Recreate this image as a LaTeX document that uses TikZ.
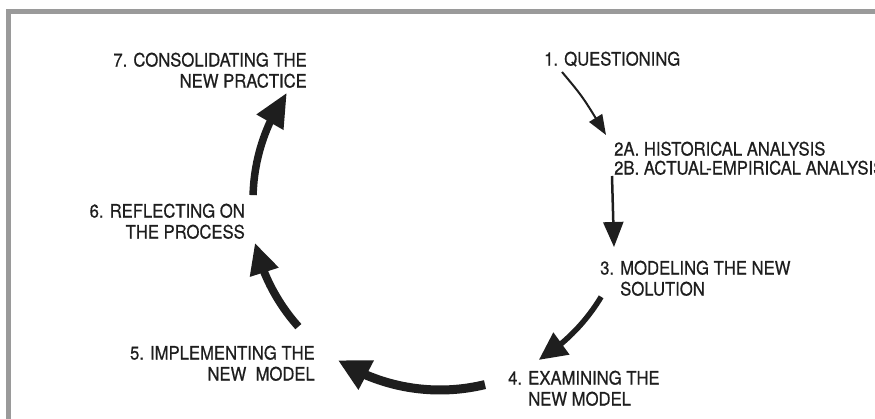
\documentclass[tikz,border=0pt]{standalone}
\usepackage{fontspec}
\setmainfont[FakeStretch=0.9,FakeBold=0.6]{TeX Gyre Heros}
\usetikzlibrary{arrows.meta,bending}
\definecolor{ink}{HTML}{1E1E1E}
\definecolor{framegray}{HTML}{9A9A9A}
\begin{document}
\begin{tikzpicture}[x=1pt,y=-1pt,
  steplabel/.style={inner sep=0pt, text=ink, font=\fontsize{18.5}{21}\selectfont},
  thinarrow/.style={draw=ink, line width=2pt, -{Triangle[length=20pt,width=15pt]}},
  cyclearrow/.style n args={3}{draw=ink, line width=#1, -{Triangle[length=#2,width=#3]}}
]
\useasboundingbox (0,0) rectangle (875,419);
\clip (0,0) rectangle (875,419);
\fill[white] (0,0) rectangle (875,419);

% open frame along the left and top edges
\draw[framegray, line width=5pt] (8.5,440) -- (8.5,11.5) -- (900,11.5);

% step labels
\node[steplabel, anchor=north east, align=right] (n7) at (307,52.5) {7. CONSOLIDATING THE\\NEW PRACTICE};
\node[steplabel, anchor=north west] (n1) at (544,51.5) {1. QUESTIONING};
\node[steplabel, anchor=north west, align=left, font=\fontsize{18.5}{19}\selectfont] (n2) at (614,141.5)
  {2A. HISTORICAL ANALYSIS\\2B. ACTUAL-EMPIRICAL ANALYSIS};
\node[steplabel, anchor=north east, align=right] (n6) at (245,203.5) {6. REFLECTING ON\\THE PROCESS};
\node[steplabel, anchor=north west, align=left] (n3) at (600,260.5) {3. MODELING THE NEW\\\phantom{3. }SOLUTION};
\node[steplabel, anchor=north east, align=right] (n5) at (315,345.5) {5. IMPLEMENTING THE\\NEW\ \ MODEL};
\node[steplabel, anchor=north west, align=left] (n4) at (508,370.5) {4. EXAMINING THE\\\phantom{4. }NEW MODEL};

% thin arrows from step 1 to step 2 and from step 2 to step 3
\coordinate (q1) at (562,72);
\coordinate (q2) at (606,135);
\coordinate (r1) at (612,176);
\coordinate (r2) at (614,247);
\draw[thinarrow] (q1) .. controls (583,97) .. (q2);
\draw[thinarrow, line width=2.5pt, -{Triangle[length=25pt,width=20pt]}] (r1) -- (r2);

% heavy arrows on a common circle: 3 -> 4 -> 5 -> 6 -> 7
\coordinate (c) at (440,200);
\path (c) ++(31:188)    coordinate (s34);
\path (c) ++(76.3:190)  coordinate (s45);
\path (c) ++(138.2:190) coordinate (s56);
\path (c) ++(181.5:187) coordinate (s67);
\draw[cyclearrow={5.5pt}{28pt}{26pt}] (s34) arc[start angle=31, end angle=58.3, radius=188];
\draw[cyclearrow={9pt}{32pt}{31pt}] (s45) arc[start angle=76.3, end angle=122.5, radius=190];
\draw[cyclearrow={8pt}{31pt}{28pt}] (s56) arc[start angle=138.2, end angle=167, radius=190];
\draw[cyclearrow={7.5pt}{34pt}{29pt}] (s67) arc[start angle=181.5, end angle=215, radius=187];
\end{tikzpicture}
\end{document}
